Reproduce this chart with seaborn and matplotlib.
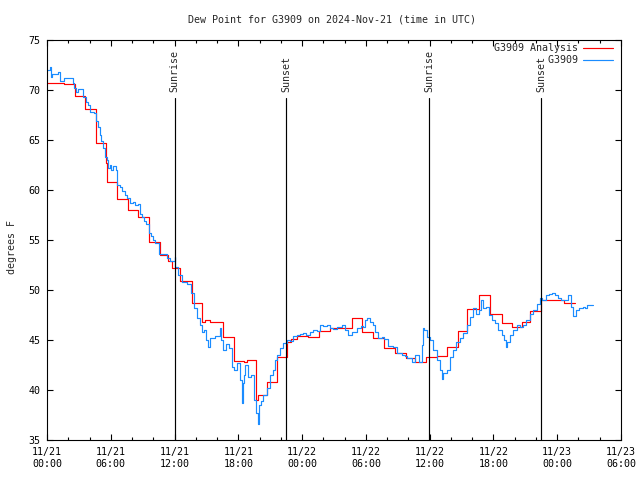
import numpy as np
import pandas as pd
import seaborn as sns
import matplotlib.pyplot as plt
from matplotlib.ticker import MultipleLocator

# hours since 2024-11-21 00:00 UTC (10 values per row)
obs_hours = [0.0, 0.28, 0.33, 0.5, 1.0, 1.22, 1.6, 2.45, 2.55, 2.7,
             2.95, 3.35, 3.65, 3.85, 4.0, 4.45, 4.65, 4.8, 4.95, 5.1,
             5.25, 5.45, 5.6, 5.75, 5.9, 6.05, 6.2, 6.45, 6.6, 6.85,
             7.05, 7.3, 7.55, 7.8, 8.05, 8.3, 8.55, 8.75, 8.95, 9.15,
             9.35, 9.6, 9.8, 9.95, 10.2, 10.5, 11.25, 11.6, 12.0, 12.05,
             12.35, 12.7, 13.15, 13.5, 13.8, 14.1, 14.4, 14.55, 14.75, 15.0,
             15.15, 15.35, 15.8, 16.27, 16.35, 16.6, 16.85, 17.1, 17.4, 17.55,
             17.9, 18.16, 18.3, 18.41, 18.5, 18.65, 18.9, 19.2, 19.5, 19.7,
             19.82, 19.9, 20.1, 20.35, 20.67, 21.0, 21.3, 21.45, 21.67, 21.92,
             22.23, 22.55, 22.86, 23.17, 23.5, 23.8, 24.1, 24.4, 24.74, 25.06,
             25.37, 25.68, 26.0, 26.3, 26.62, 26.94, 27.25, 27.72, 28.04, 28.35,
             28.66, 29.13, 29.51, 29.76, 29.95, 30.07, 30.39, 30.64, 30.86, 31.17,
             31.48, 31.73, 32.11, 32.58, 32.9, 33.36, 33.68, 33.9, 34.31, 34.62,
             35.03, 35.25, 35.4, 35.5, 35.72, 36.03, 36.35, 36.66, 36.97, 37.15,
             37.3, 37.6, 37.9, 38.2, 38.5, 38.85, 39.16, 39.5, 39.75, 40.1,
             40.4, 40.6, 40.8, 41.0, 41.3, 41.6, 41.85, 42.1, 42.4, 42.77,
             43.0, 43.15, 43.3, 43.6, 43.87, 44.2, 44.5, 44.8, 45.1, 45.45,
             45.75, 46.1, 46.4, 46.6, 46.9, 47.2, 47.5, 47.8, 48.1, 48.4,
             48.7, 49.05, 49.26, 49.52, 49.77, 50.08, 50.4, 50.61, 50.77, 51.33]
obs_dewpt = [71.95, 72.27, 71.33, 71.6, 71.83, 70.93, 71.17, 70.7, 70.2, 69.83,
             70.13, 69.33, 68.8, 68.5, 67.83, 67.67, 66.9, 66.3, 65.5, 64.9,
             64.2, 63.3, 63.0, 62.2, 62.5, 62.0, 62.4, 62.0, 60.5, 60.3,
             59.9, 59.5, 59.2, 58.7, 58.8, 58.5, 58.6, 57.6, 57.3, 56.9,
             56.6, 55.7, 55.4, 55.0, 54.7, 53.6, 53.2, 52.9, 53.3, 52.3,
             51.5, 50.8, 50.6, 49.7, 48.2, 47.2, 46.5, 45.8, 46.0, 45.0,
             44.3, 45.2, 45.4, 46.2, 45.0, 44.0, 44.6, 44.2, 42.3, 42.0,
             42.7, 41.0, 38.7, 40.7, 41.5, 42.5, 41.3, 41.5, 39.0, 37.7,
             36.6, 38.5, 38.9, 39.5, 40.2, 41.5, 42.0, 43.0, 43.5, 44.2,
             44.7, 45.0, 44.9, 45.4, 45.5, 45.6, 45.7, 45.5, 45.8, 46.0,
             45.9, 46.5, 46.4, 46.5, 46.2, 46.1, 46.3, 46.5, 46.0, 45.5,
             45.8, 46.2, 46.4, 46.3, 47.0, 47.2, 46.8, 46.5, 45.8, 45.2,
             45.3, 45.1, 44.4, 44.3, 43.7, 43.5, 43.4, 43.2, 42.8, 43.5,
             42.8, 44.5, 46.2, 46.0, 45.3, 45.0, 44.0, 43.0, 42.0, 41.1,
             41.7, 42.0, 43.3, 44.0, 44.8, 45.2, 45.7, 46.5, 47.3, 48.2,
             47.6, 48.0, 49.0, 48.2, 48.3, 47.5, 47.0, 46.7, 46.0, 45.5,
             45.0, 44.3, 44.8, 45.5, 46.0, 46.5, 46.3, 46.5, 47.0, 47.6,
             48.0, 48.6, 49.2, 49.0, 49.5, 49.6, 49.7, 49.5, 49.2, 49.0,
             49.0, 49.5, 48.3, 47.4, 48.0, 48.2, 48.3, 48.2, 48.5, 48.5]

ana_hours = [0.0, 1.6, 2.6, 3.6, 4.6, 5.55, 5.65, 6.6, 7.6, 8.6,
             9.6, 10.63, 11.41, 11.73, 12.51, 13.61, 14.61, 14.9, 15.3, 16.59,
             17.6, 18.5, 18.8, 19.66, 19.88, 20.67, 21.67, 22.55, 23.0, 23.55,
             24.55, 25.6, 26.6, 28.66, 29.6, 30.7, 31.7, 32.7, 33.8, 34.6,
             35.7, 36.7, 37.6, 38.63, 39.54, 40.67, 41.67, 42.77, 43.71, 44.65,
             45.4, 46.5, 48.6, 49.67]
ana_dewpt = [70.67, 70.57, 69.4, 68.07, 64.7, 62.7, 60.77, 59.1, 57.97, 57.33,
             54.77, 53.5, 52.93, 52.17, 50.9, 48.67, 46.83, 47.0, 46.83, 45.27,
             42.93, 42.77, 43.0, 39.0, 39.5, 40.83, 43.27, 44.83, 45.07, 45.4,
             45.27, 45.9, 46.2, 47.17, 45.77, 45.17, 44.17, 43.67, 43.17, 42.77,
             43.27, 43.43, 44.27, 45.93, 48.07, 49.5, 47.6, 46.73, 46.33, 46.83,
             47.93, 49.0, 48.73, 48.73]

sun_hours = [12.0, 22.48, 35.94, 46.47]
sun_labels = ['Sunrise', 'Sunset', 'Sunrise', 'Sunset']

tick_hours = [0, 6, 12, 18, 24, 30, 36, 42, 48, 54]
tick_labels = ['11/21\n00:00', '11/21\n06:00', '11/21\n12:00', '11/21\n18:00',
               '11/22\n00:00', '11/22\n06:00', '11/22\n12:00', '11/22\n18:00',
               '11/23\n00:00', '11/23\n06:00']

sns.set_style('ticks')
plt.rcParams['font.family'] = ['DejaVu Sans Mono']
plt.rcParams['font.size'] = 7.2

fig = plt.figure(figsize=(6.4, 4.8), dpi=100)
ax = fig.add_axes([47 / 640, 40 / 480, 574 / 640, 400 / 480])

obs = pd.DataFrame({'hour': obs_hours, 'dewpt': obs_dewpt})
ana = pd.DataFrame({'hour': ana_hours, 'dewpt': ana_dewpt})

sns.lineplot(data=ana, x='hour', y='dewpt', ax=ax, color='#ff0000', linewidth=0.85,
             drawstyle='steps-post', label='G3909 Analysis', sort=False)
sns.lineplot(data=obs, x='hour', y='dewpt', ax=ax, color='#1a8cff', linewidth=0.85,
             drawstyle='steps-post', label='         G3909', sort=False)

for h, lab in zip(sun_hours, sun_labels):
    ax.plot([h, h], [35, 69.2], color='black', linewidth=0.85)
    ax.text(h, 69.8, lab, rotation=90, ha='center', va='bottom', fontsize=7.2)

ax.set_xlim(0, 54)
ax.set_ylim(35, 75)
ax.set_xticks(tick_hours)
ax.set_xticklabels(tick_labels, linespacing=1.3)
ax.xaxis.set_minor_locator(MultipleLocator(2))
ax.yaxis.set_major_locator(MultipleLocator(5))
ax.tick_params(which='both', direction='in', top=True, right=True, width=0.8, colors='black')
ax.tick_params(which='major', length=4.3)
ax.tick_params(which='minor', length=2.2)
ax.tick_params(axis='x', pad=5)
ax.tick_params(axis='y', pad=4.5)
ax.set_xlabel('')
ax.set_ylabel('')
for s in ax.spines.values():
    s.set_linewidth(0.8)
    s.set_color('black')

fig.text(12 / 640, 1 - 247 / 480, 'degrees F', rotation=90, ha='center', va='center')
fig.text(332 / 640, 1 - 19 / 480, 'Dew Point for G3909 on 2024-Nov-21 (time in UTC)',
         ha='center', va='center')

ax.legend(loc='upper right', bbox_to_anchor=(613 / 640, 1 - 43 / 480),
          bbox_transform=fig.transFigure, frameon=False, markerfirst=False,
          handlelength=3.0, handletextpad=0.5, labelspacing=0.2, borderpad=0,
          borderaxespad=0)

fig.savefig('out.png', dpi=100)
